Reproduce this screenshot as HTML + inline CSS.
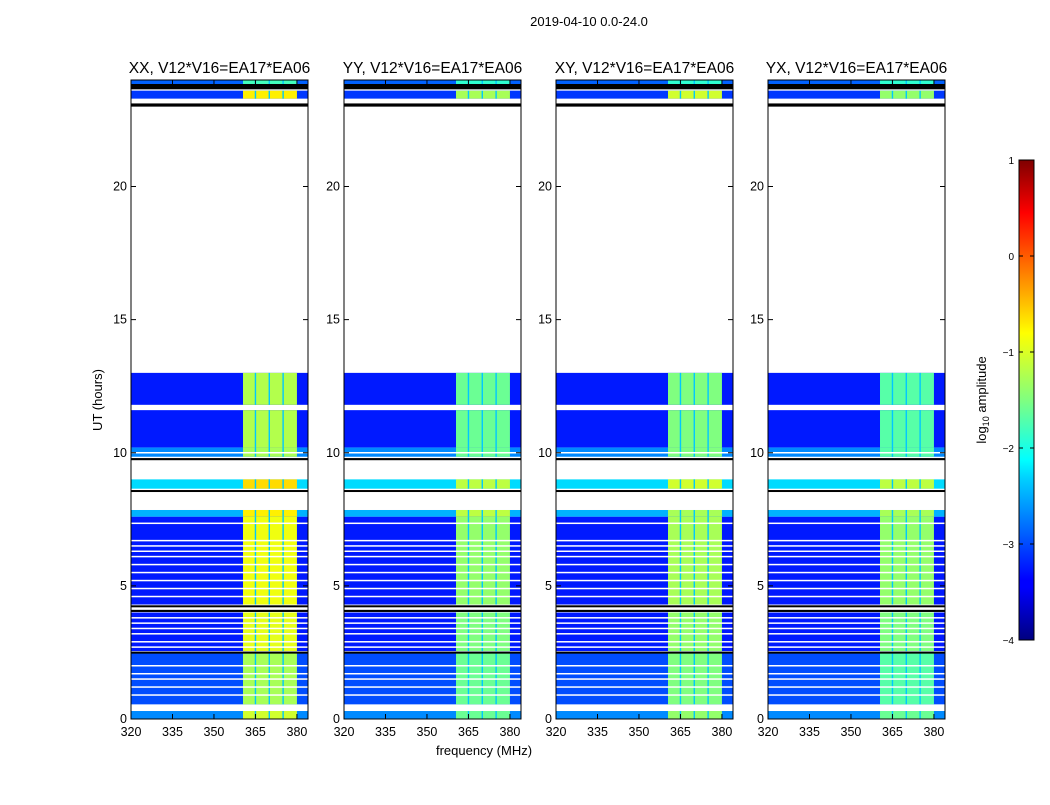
<!DOCTYPE html>
<html><head><meta charset="utf-8"><style>
body{margin:0;background:#fff;width:1050px;height:800px;overflow:hidden}
svg text{font-family:"Liberation Sans","DejaVu Sans",sans-serif}
</style></head><body>
<svg id="fig" width="1050" height="800" xmlns="http://www.w3.org/2000/svg">
<defs>
<linearGradient id="jet" x1="0" y1="1" x2="0" y2="0">
<stop offset="0" stop-color="#00007f"/><stop offset="0.11" stop-color="#0000ff"/><stop offset="0.125" stop-color="#0000ff"/>
<stop offset="0.34" stop-color="#00d4ff"/><stop offset="0.375" stop-color="#00ffff"/><stop offset="0.5" stop-color="#80ff80"/>
<stop offset="0.64" stop-color="#ffff00"/><stop offset="0.66" stop-color="#ffea00"/><stop offset="0.89" stop-color="#ff0000"/><stop offset="1" stop-color="#7f0000"/>
</linearGradient>
</defs>
<text x="589" y="26" font-size="13" text-anchor="middle">2019-04-10 0.0-24.0</text>
<text transform="translate(102,400) rotate(-90)" font-size="13" text-anchor="middle">UT (hours)</text>
<text x="484" y="755" font-size="13" text-anchor="middle">frequency (MHz)</text>
<g id="panels"></g>
<g id="cbar"></g>
</svg>
<script>
const panelTitles = ["XX, V12*V16=EA17*EA06","YY, V12*V16=EA17*EA06","XY, V12*V16=EA17*EA06","YX, V12*V16=EA17*EA06"];
const segStart = [0.0,0.55,2.55,4.3,7.6,8.65,9.85,10.2,11.8,23.3,23.85];
const segEnd   = [0.3,2.5,4.0,7.6,7.85,9.0,10.2,11.6,13.0,23.6,24.0];
const bgVal    = [-2.7,-3.0,-3.25,-3.25,-2.5,-2.3,-2.7,-3.25,-3.25,-3.1,-2.9];
const bandXX   = [-1.1,-1.3,-1.0,-0.95,-0.8,-0.7,-1.3,-1.25,-1.25,-0.8,-1.8];
const bandYY   = [-1.6,-1.6,-1.5,-1.4,-1.2,-1.2,-1.6,-1.6,-1.6,-1.3,-1.9];
const bandXY   = [-1.4,-1.5,-1.4,-1.3,-1.3,-1.1,-1.5,-1.5,-1.5,-1.1,-1.9];
const bandYX   = [-1.6,-1.7,-1.5,-1.4,-1.3,-1.2,-1.7,-1.7,-1.7,-1.4,-1.9];
const bands = [bandXX,bandYY,bandXY,bandYX];
const notchFreqs = [365,370,375];
const notchVal = -2.4;
const whiteLines = [0.9,1.2,1.5,1.7,2.0,2.7,2.9,3.2,3.4,3.6,3.8,4.6,4.9,5.2,5.5,5.8,6.1,6.3,6.5,6.7,7.35,10.0,11.65];
const blackBands = [[23.65,23.85],[23.0,23.12],[9.72,9.8],[8.55,8.6],[4.02,4.1],[4.2,4.27],[2.48,2.53]];
const xTicks = [320,335,350,365,380];
const yTicks = [0,5,10,15,20];
const cbTicks = [1,0,-1,-2,-3,-4];
const bandLo = 360.5, bandHi = 380;

const panelX = [131,344,556,768], panelW = 177;
const yTop=80, yBot=719;
const fmin=320, fmax=384, hmin=0, hmax=24;
function xs(p,f){return panelX[p]+(f-fmin)/(fmax-fmin)*panelW;}
function ys(h){return yBot-(h-hmin)/(hmax-hmin)*(yBot-yTop);}
function jet(v){let t=(v+4)/5;t=Math.max(0,Math.min(1,t));
 const c=x=>Math.round(255*Math.max(0,Math.min(1,x)));
 const r=c(Math.min(4*t-1.5,-4*t+4.5)),g=c(Math.min(4*t-0.5,-4*t+3.5)),b=c(Math.min(4*t+0.5,-4*t+2.5));
 return `rgb(${r},${g},${b})`;}
const NS="http://www.w3.org/2000/svg";
function mk(tag,attrs,parent){const e=document.createElementNS(NS,tag);for(const k in attrs)e.setAttribute(k,attrs[k]);parent.appendChild(e);return e;}
const PG=document.getElementById('panels');
for(let p=0;p<4;p++){
 const g=mk('g',{},PG);
 
 
 const t=mk('text',{x:panelX[p]+panelW/2,y:73,'font-size':15.5,'text-anchor':'middle'},g);t.textContent=panelTitles[p];
 
 
 for(let i=0;i<segStart.length;i++){
  const y0=ys(segEnd[i]),y1=ys(segStart[i]);
  const r=mk('rect',{x:xs(p,fmin),y:y0,width:panelW,height:y1-y0,fill:jet(bgVal[i])},g);
  
  
  const b=mk('rect',{x:xs(p,bandLo),y:y0,width:xs(p,bandHi)-xs(p,bandLo),height:y1-y0,fill:jet(bands[p][i])},g);
  
  
  for(const f of notchFreqs){
   const n=mk('rect',{x:xs(p,f)-0.7,y:y0,width:1.4,height:y1-y0,fill:jet(notchVal)},g);
   
   
  }
 }
 for(const h of whiteLines){const w=mk('rect',{x:panelX[p],y:ys(h)-0.75,width:panelW,height:1.5,fill:'#fff'},g);
  
  }
 for(const bb of blackBands){const y0=ys(bb[1]),y1=ys(bb[0]);const k=mk('rect',{x:panelX[p],y:y0,width:panelW,height:Math.max(2,y1-y0),fill:'#000'},g);
  
  }
 const fr=mk('rect',{x:panelX[p],y:yTop,width:panelW,height:yBot-yTop,fill:'none',stroke:'#000','stroke-width':1},g);
 
 
 for(const v of xTicks){const x=xs(p,v);
  mk('line',{x1:x,x2:x,y1:yBot,y2:yBot-5,stroke:'#000'},g);mk('line',{x1:x,x2:x,y1:yTop,y2:yTop+5,stroke:'#000'},g);
  const l=mk('text',{x:x,y:yBot+17,'font-size':12.5,'text-anchor':'middle'},g);l.textContent=v;
  
  }
 for(const v of yTicks){const y=ys(v);
  mk('line',{x1:panelX[p],x2:panelX[p]+5,y1:y,y2:y,stroke:'#000'},g);mk('line',{x1:panelX[p]+panelW,x2:panelX[p]+panelW-5,y1:y,y2:y,stroke:'#000'},g);
  const l=mk('text',{x:panelX[p]-4,y:y+4,'font-size':12.5,'text-anchor':'end'},g);l.textContent=v;
  
  }
}
const C=document.getElementById('cbar');
const cx=1019,cw=15,ct=160,cb=640;
mk('rect',{x:cx,y:ct,width:cw,height:cb-ct,fill:'url(#jet)',stroke:'#000'},C);
for(const v of cbTicks){const y=cb-(v+4)/5*(cb-ct);
 mk('line',{x1:cx,x2:cx+4,y1:y,y2:y,stroke:'#000'},C);mk('line',{x1:cx+cw,x2:cx+cw-4,y1:y,y2:y,stroke:'#000'},C);
 const l=mk('text',{x:cx-5,y:y+4,'font-size':10,'text-anchor':'end'},C);l.textContent=v<0?'\u2212'+(-v):v;
 
 }
const lab=mk('text',{transform:'translate(986,400) rotate(-90)','font-size':13,'text-anchor':'middle'},C);
lab.innerHTML='log<tspan font-size="9" dy="3">10</tspan><tspan dy="-3"> amplitude</tspan>';


</script>
</body></html>
